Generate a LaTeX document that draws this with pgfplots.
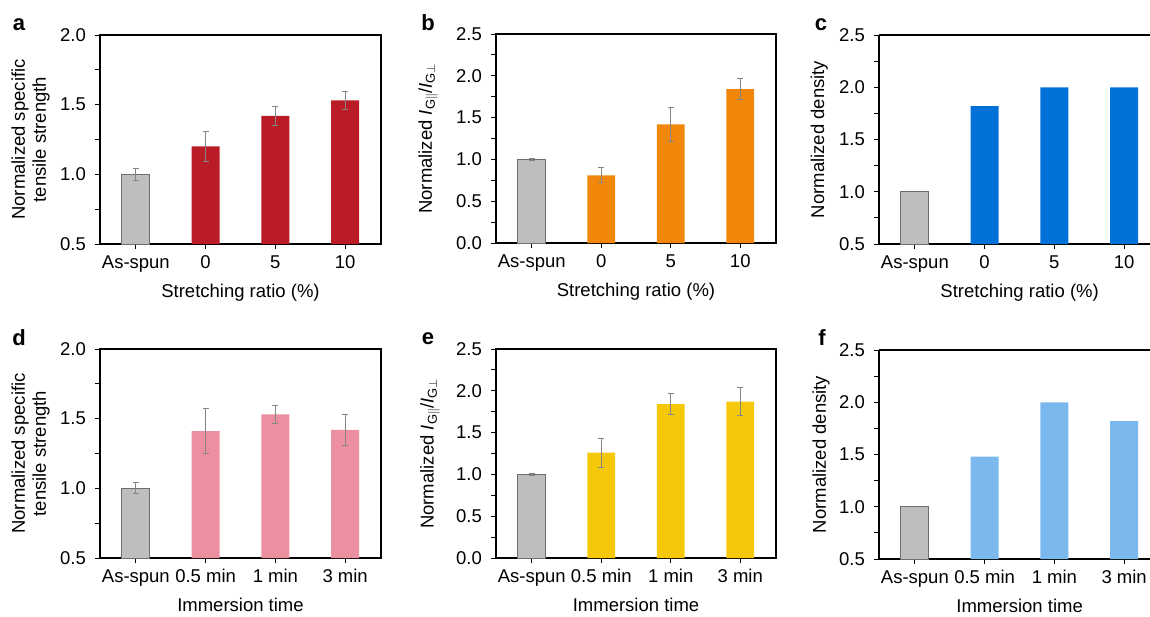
\documentclass[border=0pt]{standalone}
\usepackage{fontspec}
\setmainfont{Liberation Sans}
\usepackage{pgfplots}
\pgfplotsset{compat=1.18}
\definecolor{barg}{HTML}{BEBEBE}
\definecolor{edgeg}{HTML}{6E6E6E}
\definecolor{errg}{HTML}{858585}
\definecolor{cred}{HTML}{BA1C26}
\definecolor{corange}{HTML}{F0860A}
\definecolor{cblue}{HTML}{0071D9}
\definecolor{cpink}{HTML}{EC8FA0}
\definecolor{cyellow}{HTML}{F5C80A}
\definecolor{clblue}{HTML}{7AB8EE}

\pgfplotsset{
  panel/.style={
    scale only axis, height=209pt,
    xmin=-0.514, xmax=3.514,
    xtick={0,1,2,3},
    tick align=outside, xtick pos=bottom, ytick pos=left,
    major tick length=5pt, minor tick length=5pt,
    minor y tick num=1,
    axis line style={line width=1.2pt},
    every tick/.style={black, line width=1pt},
    /pgf/number format/assume math mode=true,
    yticklabel style={/pgf/number format/fixed, /pgf/number format/fixed zerofill, /pgf/number format/precision=1,
      anchor=east, inner sep=0pt, xshift=-9pt},
    xticklabel style={anchor=base, inner sep=0pt, yshift=-19pt},
    xlabel style={at={(axis description cs:0.5,-0.258)}, anchor=base, inner sep=0pt},
    ylabel style={anchor=south, inner sep=0pt, align=center},
    clip=true,
  },
  % right-hand panels are cut off by the page edge
  cutpanel/.style={width=271pt, xmax=3.371, axis x line*=box, axis y line*=left},
  errs/.style={
    error bars/y dir=both, error bars/y explicit,
    error bars/error bar style={line width=1pt, color=errg},
    error bars/error mark options={rotate=90, mark size=3pt, line width=1pt, color=errg},
  },
  gbar/.style={ybar, bar width=0.4, bar shift=0pt, fill=barg, draw=edgeg, line width=1pt},
  cbar/.style={ybar, bar width=0.4, bar shift=0pt, fill=#1, draw=none},
}

\begin{document}
\fontsize{18.5}{21}\selectfont
\begin{tikzpicture}
\useasboundingbox (0pt,0pt) rectangle (1150pt,-616pt);
\clip (0pt,0pt) rectangle (1150pt,-616pt);

% a
\begin{axis}[panel, at={(100pt,-244pt)}, width=281pt, ymin=0.5, ymax=2.0, ytick={0.5,1.0,1.5,2.0},
  xticklabels={As-spun,0,5,10}, xlabel={Stretching ratio (\%)},
  ylabel={Normalized specific\\tensile strength},
  ylabel style={at={(axis description cs:-0.178,0.5)}}]
\addplot[gbar, errs] coordinates {(0,1.00) +- (0,0.043)};
\addplot[cbar=cred, errs] coordinates {(1,1.20) +- (0,0.11) (2,1.42) +- (0,0.066) (3,1.53) +- (0,0.065)};
\end{axis}

% b
\begin{axis}[panel, at={(496pt,-243pt)}, width=280pt, ymin=0, ymax=2.5, ytick={0,0.5,...,2.5},
  xticklabels={As-spun,0,5,10}, xlabel={Stretching ratio (\%)},
  ylabel={Normalized \textit{I}\textsubscript{G$\|$}/\textit{I}\textsubscript{G$\perp$}},
  ylabel style={at={(axis description cs:-0.207,0.5)}}]
\addplot[gbar, errs] coordinates {(0,1.00) +- (0,0.01)};
\addplot[cbar=corange, errs] coordinates {(1,0.81) +- (0,0.09) (2,1.42) +- (0,0.20) (3,1.84) +- (0,0.125)};
\end{axis}

% c
\begin{axis}[panel, cutpanel, at={(879pt,-244pt)}, ymin=0.5, ymax=2.5, ytick={0.5,1.0,...,2.5},
  xticklabels={As-spun,0,5,10}, xlabel={Stretching ratio (\%)},
  xlabel style={at={(axis description cs:0.519,-0.258)}},
  ylabel={Normalized density},
  ylabel style={at={(axis description cs:-0.188,0.5)}}]
\addplot[gbar] coordinates {(0,1.00)};
\addplot[cbar=cblue] coordinates {(1,1.82) (2,2.00) (3,2.00)};
\end{axis}

% d
\begin{axis}[panel, at={(100pt,-558pt)}, width=281pt, ymin=0.5, ymax=2.0, ytick={0.5,1.0,1.5,2.0},
  xticklabels={As-spun,0.5 min,1 min,3 min}, xlabel={Immersion time},
  ylabel={Normalized specific\\tensile strength},
  ylabel style={at={(axis description cs:-0.178,0.5)}}]
\addplot[gbar, errs] coordinates {(0,1.00) +- (0,0.04)};
\addplot[cbar=cpink, errs] coordinates {(1,1.41) +- (0,0.163) (2,1.53) +- (0,0.065) (3,1.42) +- (0,0.112)};
\end{axis}

% e
\begin{axis}[panel, at={(496pt,-558pt)}, width=280pt, ymin=0, ymax=2.5, ytick={0,0.5,...,2.5},
  xticklabels={As-spun,0.5 min,1 min,3 min}, xlabel={Immersion time},
  ylabel={Normalized \textit{I}\textsubscript{G$\|$}/\textit{I}\textsubscript{G$\perp$}},
  ylabel style={at={(axis description cs:-0.2,0.5)}}]
\addplot[gbar, errs] coordinates {(0,1.00) +- (0,0.01)};
\addplot[cbar=cyellow, errs] coordinates {(1,1.26) +- (0,0.175) (2,1.84) +- (0,0.125) (3,1.87) +- (0,0.17)};
\end{axis}

% f
\begin{axis}[panel, cutpanel, at={(879pt,-559pt)}, ymin=0.5, ymax=2.5, ytick={0.5,1.0,...,2.5},
  xticklabels={As-spun,0.5 min,1 min,3 min}, xlabel={Immersion time},
  xlabel style={at={(axis description cs:0.519,-0.258)}},
  ylabel={Normalized density},
  ylabel style={at={(axis description cs:-0.181,0.5)}}]
\addplot[gbar] coordinates {(0,1.00)};
\addplot[cbar=clblue] coordinates {(1,1.48) (2,2.00) (3,1.82)};
\end{axis}

\begin{scope}[every node/.style={anchor=base, inner sep=0pt, font=\bfseries\fontsize{22}{26}\selectfont}]
\node at (19pt,-30pt) {a};
\node at (428pt,-30pt) {b};
\node at (821pt,-30pt) {c};
\node at (19pt,-345pt) {d};
\node at (428pt,-344pt) {e};
\node at (822pt,-345pt) {f};
\end{scope}
\end{tikzpicture}
\end{document}
